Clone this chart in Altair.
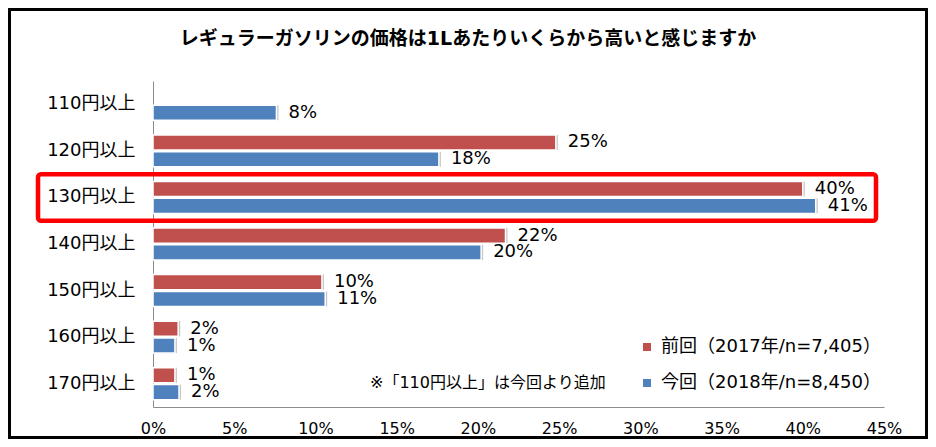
import altair as alt
import pandas as pd

# ---- data ----
categories = ["110円以上", "120円以上", "130円以上", "140円以上", "150円以上", "160円以上", "170円以上"]
series = ["前回（2017年/n=7,405）", "今回（2018年/n=8,450）"]
prev_values = [None, 24.8, 40.0, 21.7, 10.4, 1.55, 1.35]
curr_values = [7.6, 17.6, 40.8, 20.2, 10.6, 1.35, 1.6]
x_ticks = [0, 5, 10, 15, 20, 25, 30, 35, 40, 45]
highlight = ["130円以上"]
note = ["※「110円以上」は今回より追加"]
title = ["レギュラーガソリンの価格は1Lあたりいくらから高いと感じますか"]
colors = ["#C0504D", "#4F81BD"]

rows = []
for cat, pv, cv in zip(categories, prev_values, curr_values):
    if pv is not None:
        rows.append({"cat": cat, "series": series[0], "value": pv})
    if cv is not None:
        rows.append({"cat": cat, "series": series[1], "value": cv})
df = pd.DataFrame(rows)

FONT = "DejaVu Sans, Noto Sans CJK JP, sans-serif"

y_enc = alt.Y("cat:N", sort=categories,
              scale=alt.Scale(domain=categories, paddingInner=0.313, paddingOuter=0.157),
              axis=alt.Axis(title=None, ticks=False, labelPadding=18, labelFontSize=18,
                            labelColor="#000000", labelFont=FONT, domainColor="#8c8c8c",
                            domainWidth=1))
yoff_enc = alt.YOffset("series:N", scale=alt.Scale(domain=series, paddingInner=0.1))
x_enc = alt.X("value:Q", scale=alt.Scale(domain=[0, 45], nice=False, zero=True),
              axis=alt.Axis(values=x_ticks, labelExpr="datum.value + '%'", grid=False,
                            ticks=False, title=None, labelPadding=13, labelFontSize=16,
                            labelFlush=False, labelOverlap=False,
                            labelColor="#000000", labelFont=FONT, domainColor="#8c8c8c",
                            domainWidth=1))
color_enc = alt.Color("series:N",
                      scale=alt.Scale(domain=series, range=colors),
                      legend=alt.Legend(orient="none", legendX=485, legendY=257, title=None,
                                        symbolType="square", symbolSize=64,
                                        symbolStrokeWidth=0, symbolOpacity=1,
                                        labelFontSize=18, labelFont=FONT, labelColor="#000000",
                                        labelLimit=0,
                                        labelOffset=5, rowPadding=18, padding=0))

base = alt.Chart(df)

shadow = base.mark_bar(color="#808080", opacity=0.45, xOffset=2, yOffset=2).encode(
    x=x_enc, y=y_enc, yOffset=yoff_enc)

bars = base.mark_bar(stroke="white", strokeWidth=1.5).encode(
    x=x_enc, y=y_enc, yOffset=yoff_enc, color=color_enc)

labels = base.transform_calculate(
    label="format(datum.value, '.0f') + '%'"
).mark_text(align="left", baseline="middle", dx=12, fontSize=18, font=FONT,
            color="#000000").encode(
    x=x_enc, y=y_enc, yOffset=yoff_enc, text="label:N")

inner = alt.layer(shadow, bars, labels)

hl = alt.Chart(pd.DataFrame({"cat": highlight})).mark_rect(
    filled=False, stroke="#FF0000", strokeWidth=4.5, cornerRadius=3
).encode(
    y=alt.Y("cat:N", scale=alt.Scale(domain=categories, paddingInner=0, paddingOuter=0),
            axis=None),
    x=alt.value(-115), x2=alt.value(723))

note_text = alt.Chart(pd.DataFrame({"t": note})).mark_text(
    align="left", baseline="middle", fontSize=16, font=FONT, color="#000000"
).encode(text="t:N", x=alt.value(217), y=alt.value(302))

title_text = alt.Chart(pd.DataFrame({"t": title})).mark_text(
    align="center", baseline="middle", fontSize=19, fontWeight="bold", font=FONT,
    color="#000000"
).encode(text="t:N", x=alt.value(315), y=alt.value(-42))

frame = alt.Chart(pd.DataFrame({"k": [1]})).mark_rect(
    filled=False, stroke="#000000", strokeWidth=3
).encode(x=alt.value(-143.5), x2=alt.value(773.5), y=alt.value(-71.5), y2=alt.value(356.5))

chart = alt.layer(inner, hl, note_text, title_text, frame).resolve_scale(
    y="independent"
).properties(
    width=731, height=326,
    autosize=alt.AutoSizeParams(type="none"),
    padding={"left": 145, "top": 73, "right": 44, "bottom": 32},
    background="white"
).configure_view(stroke=None)

chart.save("out.html", embed_options={"renderer": "svg", "actions": False})
